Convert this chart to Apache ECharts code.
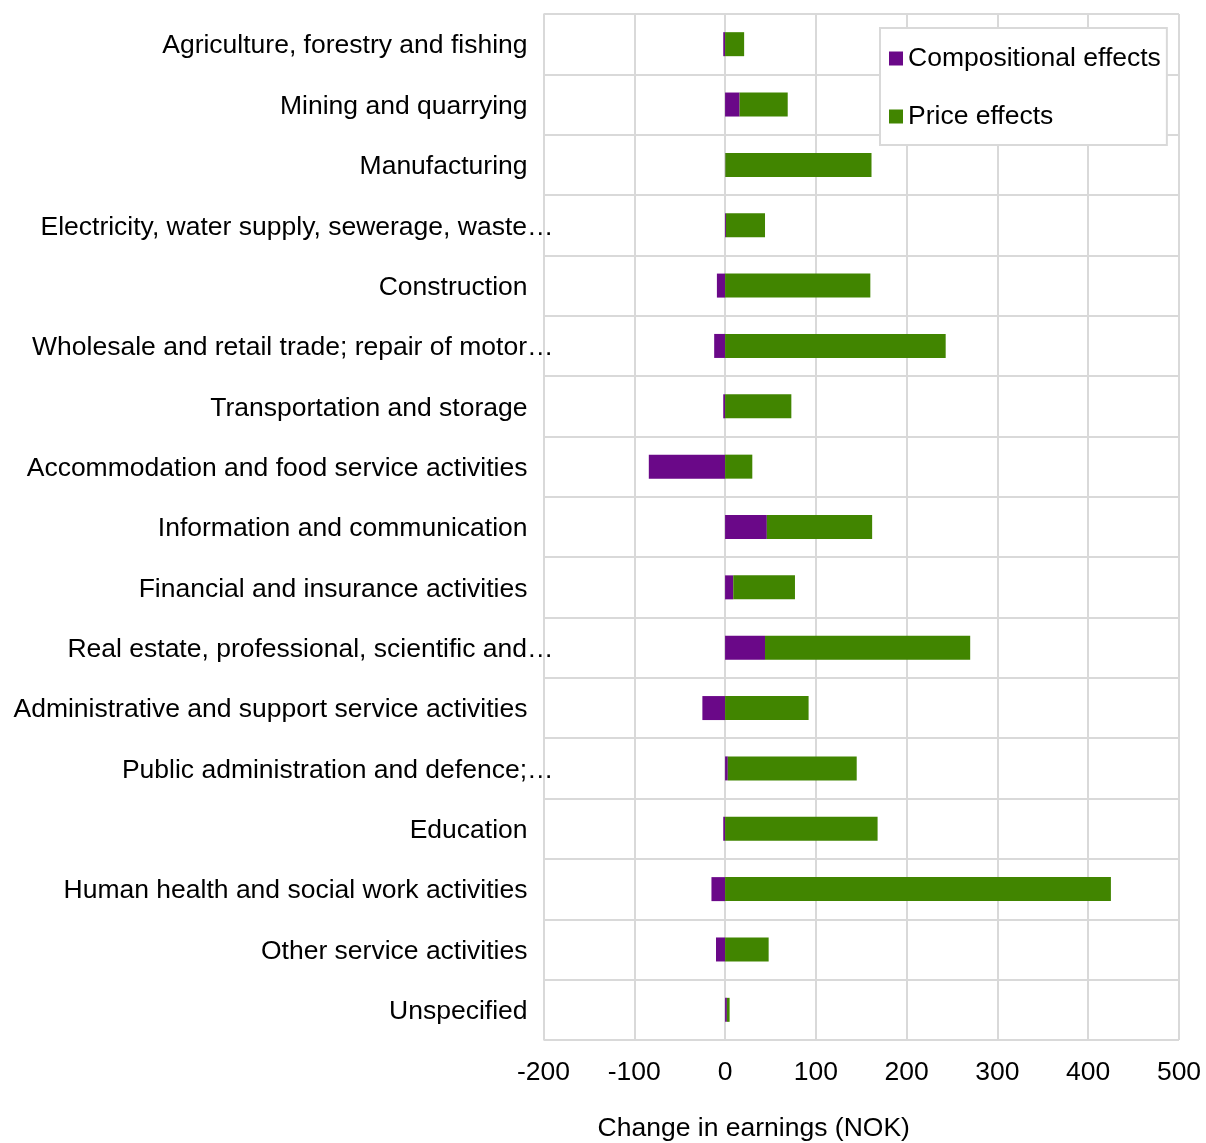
<!DOCTYPE html>
<html lang="en">
<head>
    <meta charset="UTF-8">
    <title>Change in earnings by industry</title>
    <script src="https://cdn.jsdelivr.net/npm/echarts@6/dist/echarts.min.js"></script>
    <style>
        html, body { margin: 0; padding: 0; background: #fff; }
        #chart { width: 1206px; height: 1143px; }
    </style>
</head>
<body>
    <div id="chart"></div>
    <script>
        var industries = [
            'Agriculture, forestry and fishing',
            'Mining and quarrying',
            'Manufacturing',
            'Electricity, water supply, sewerage, waste…',
            'Construction',
            'Wholesale and retail trade; repair of motor…',
            'Transportation and storage',
            'Accommodation and food service activities',
            'Information and communication',
            'Financial and insurance activities',
            'Real estate, professional, scientific and…',
            'Administrative and support service activities',
            'Public administration and defence;…',
            'Education',
            'Human health and social work activities',
            'Other service activities',
            'Unspecified'
        ];
        var compositional = [-2, 16, 0.3, 1, -9, -12, -2, -84, 46, 9, 44, -25, 3, -2, -15, -10, 2];
        var price = [21, 53, 161, 43, 160, 243, 73, 30, 116, 68, 226, 92, 142, 168, 425, 48, 3];

        var font = 'Liberation Sans, Arial, sans-serif';
        var fs = 26.5;
        var gridColor = '#d9d9d9';

        var chart = echarts.init(document.getElementById('chart'));
        var option = {
            animation: false,
            backgroundColor: '#fff',
            textStyle: { fontFamily: font },
            grid: { left: 543.5, right: 27, top: 14, bottom: 103, containLabel: false, outerBoundsMode: 'none' },
            legend: {
                orient: 'vertical',
                left: 880,
                top: 28,
                backgroundColor: '#fff',
                borderColor: gridColor,
                borderWidth: 2,
                padding: [17, 6, 15, 9],
                itemWidth: 14,
                itemHeight: 14,
                itemGap: 31,
                icon: 'rect',
                textStyle: { fontSize: fs, color: '#000', fontFamily: font },
                data: ['Compositional effects', 'Price effects']
            },
            xAxis: {
                type: 'value',
                min: -200,
                max: 500,
                interval: 100,
                axisLine: { show: false },
                axisTick: { show: false },
                axisLabel: { fontSize: fs, color: '#000', fontFamily: font, margin: 19 },
                splitLine: { show: true, lineStyle: { color: gridColor, width: 2 } },
                name: 'Change in earnings (NOK)',
                nameLocation: 'middle',
                nameGap: 75,
                nameTextStyle: { fontSize: fs, color: '#000', fontFamily: font, padding: [0, 215, 0, 0] }
            },
            yAxis: {
                type: 'category',
                inverse: true,
                data: industries,
                axisLine: { show: false },
                axisTick: { show: false },
                splitLine: { show: true, lineStyle: { color: gridColor, width: 2 } },
                axisLabel: {
                    margin: -10,
                    fontSize: fs,
                    color: '#000',
                    fontFamily: font,
                    formatter: function (v) {
                        // truncated labels run a bit past the axis, like the original
                        if (v.charAt(v.length - 1) === '…') return '{t|' + v + '}';
                        return '{n|' + v + '}';
                    },
                    rich: {
                        t: { fontSize: fs, color: '#000', fontFamily: font, padding: [4, 0, 0, 0] },
                        n: { fontSize: fs, color: '#000', fontFamily: font, padding: [4, 26, 0, 0] }
                    }
                }
            },
            series: [
                {
                    name: 'Compositional effects',
                    type: 'bar',
                    stack: 'total',
                    barWidth: 24,
                    itemStyle: { color: '#6a0888' },
                    data: compositional
                },
                {
                    name: 'Price effects',
                    type: 'bar',
                    stack: 'total',
                    barWidth: 24,
                    itemStyle: { color: '#418500' },
                    data: price
                }
            ]
        };
        chart.setOption(option);
    </script>
</body>
</html>
